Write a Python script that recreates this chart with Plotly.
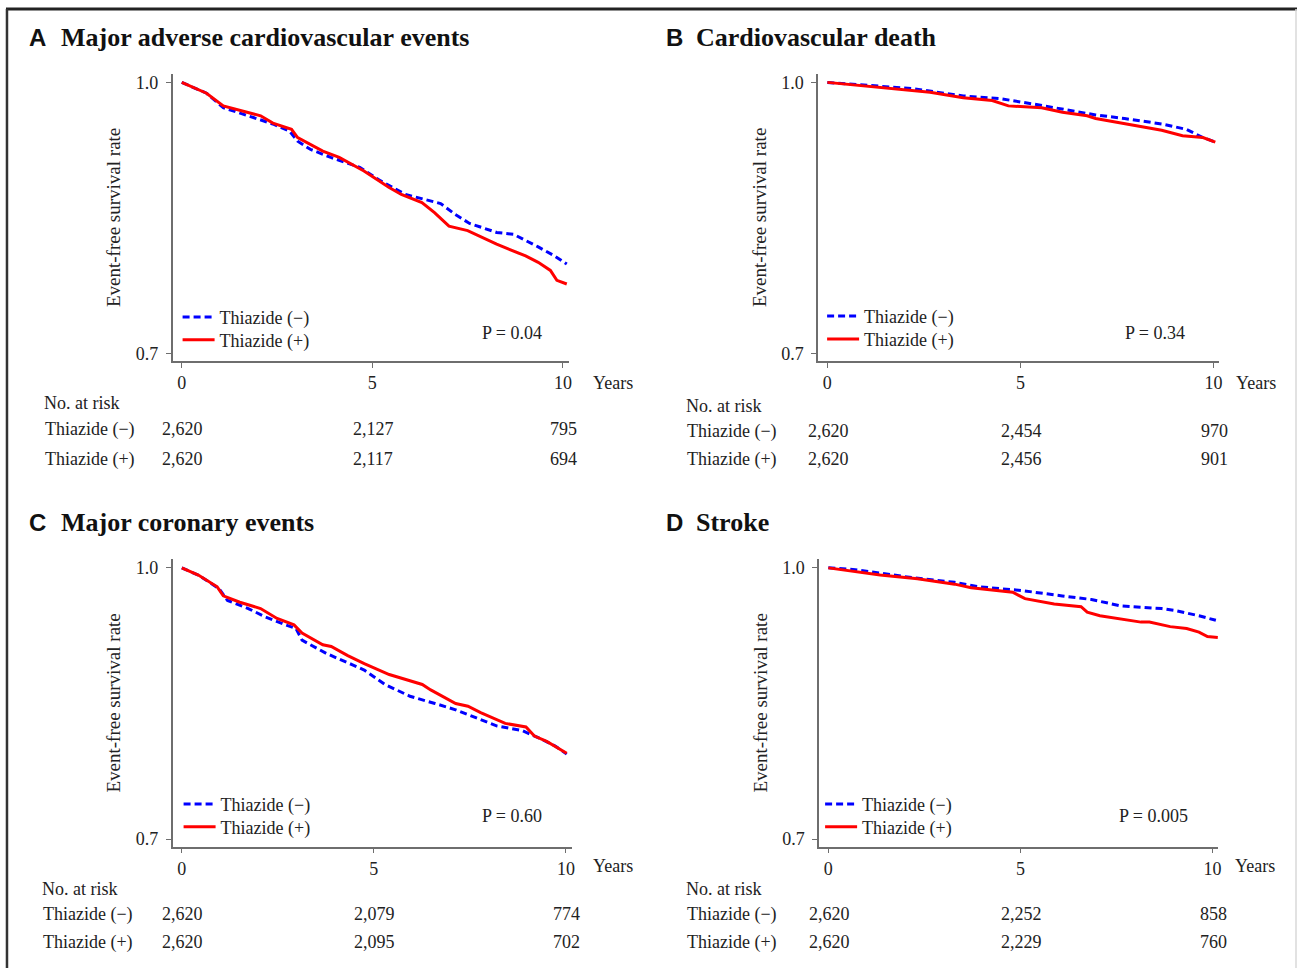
import plotly.graph_objects as go

# ---------------- data ----------------
# Panel A: Major adverse cardiovascular events
A_neg_t = [0, 0.65, 1.09, 1.74, 2.39, 2.83, 3.04, 3.37, 3.91, 4.67, 5.22, 5.87, 6.30, 6.79, 7.17, 7.55, 8.26, 8.70, 9.35, 9.78, 10.1]
A_neg_s = [1.0, 0.988, 0.972, 0.963, 0.954, 0.946, 0.935, 0.926, 0.917, 0.906, 0.891, 0.876, 0.871, 0.866, 0.854, 0.844, 0.834, 0.832, 0.818, 0.808, 0.799]
A_pos_t = [0, 0.65, 1.09, 1.52, 2.07, 2.39, 2.88, 3.04, 3.70, 4.13, 4.78, 5.43, 5.76, 6.30, 6.63, 7.01, 7.50, 8.26, 9.02, 9.35, 9.67, 9.84, 10.1]
A_pos_s = [1.0, 0.988, 0.974, 0.969, 0.963, 0.955, 0.948, 0.939, 0.924, 0.917, 0.902, 0.884, 0.876, 0.867, 0.856, 0.841, 0.836, 0.821, 0.808, 0.801, 0.792, 0.781, 0.777]

# Panel B: Cardiovascular death
B_neg_t = [0, 0.94, 2.23, 3.52, 4.48, 5.34, 6.30, 6.95, 7.70, 8.66, 9.30, 9.73, 10.05]
B_neg_s = [1.0, 0.997, 0.993, 0.985, 0.982, 0.976, 0.969, 0.964, 0.960, 0.954, 0.948, 0.939, 0.934]
B_pos_t = [0, 0.94, 1.80, 2.66, 3.52, 4.27, 4.69, 5.55, 6.09, 6.73, 6.95, 8.02, 8.66, 9.20, 9.73, 10.05]
B_pos_s = [1.0, 0.996, 0.993, 0.989, 0.983, 0.980, 0.974, 0.972, 0.967, 0.963, 0.960, 0.952, 0.947, 0.941, 0.939, 0.934]

# Panel C: Major coronary events
C_neg_t = [0, 0.43, 0.97, 1.19, 1.73, 2.16, 2.70, 2.97, 3.13, 3.78, 4.43, 4.75, 5.29, 5.94, 6.59, 7.13, 7.67, 8.21, 8.86, 9.29, 9.72, 10.02]
C_neg_s = [1.0, 0.992, 0.977, 0.964, 0.955, 0.946, 0.937, 0.933, 0.920, 0.905, 0.893, 0.887, 0.871, 0.858, 0.850, 0.843, 0.834, 0.825, 0.820, 0.812, 0.803, 0.794]
C_pos_t = [0, 0.43, 0.92, 1.08, 1.51, 2.05, 2.48, 2.92, 3.13, 3.67, 3.89, 4.32, 4.75, 5.40, 6.26, 6.48, 7.13, 7.45, 7.78, 8.42, 8.96, 9.18, 9.50, 10.02]
C_pos_s = [1.0, 0.992, 0.979, 0.969, 0.962, 0.955, 0.944, 0.937, 0.928, 0.915, 0.913, 0.903, 0.894, 0.882, 0.871, 0.865, 0.850, 0.847, 0.840, 0.828, 0.824, 0.814, 0.808, 0.795]

# Panel D: Stroke
D_neg_t = [0, 0.70, 2.21, 3.29, 3.94, 5.02, 6.09, 6.85, 7.61, 8.68, 9.01, 9.65, 10.09]
D_neg_s = [1.0, 0.998, 0.989, 0.984, 0.979, 0.975, 0.969, 0.965, 0.958, 0.955, 0.953, 0.947, 0.942]
D_pos_t = [0, 0.70, 1.35, 2.32, 3.29, 3.72, 4.80, 5.12, 5.88, 6.58, 6.74, 7.07, 8.14, 8.36, 8.90, 9.33, 9.65, 9.87, 10.14]
D_pos_s = [1.0, 0.996, 0.992, 0.988, 0.982, 0.978, 0.973, 0.966, 0.960, 0.957, 0.951, 0.947, 0.940, 0.940, 0.935, 0.933, 0.929, 0.924, 0.923]

panel_letters = ["A", "B", "C", "D"]
panel_titles = ["Major adverse cardiovascular events", "Cardiovascular death",
                "Major coronary events", "Stroke"]
p_values = ["P = 0.04", "P = 0.34", "P = 0.60", "P = 0.005"]
risk_times = [0, 5, 10]
risk_neg = [["2,620", "2,127", "795"], ["2,620", "2,454", "970"],
            ["2,620", "2,079", "774"], ["2,620", "2,252", "858"]]
risk_pos = [["2,620", "2,117", "694"], ["2,620", "2,456", "901"],
            ["2,620", "2,095", "702"], ["2,620", "2,229", "760"]]
group_labels = ["Thiazide (\u2212)", "Thiazide (+)"]
x_ticks = [0, 5, 10]
y_ticks = [0.7, 1.0]
y_tick_text = ["0.7", "1.0"]

curves = [(A_neg_t, A_neg_s, A_pos_t, A_pos_s),
          (B_neg_t, B_neg_s, B_pos_t, B_pos_s),
          (C_neg_t, C_neg_s, C_pos_t, C_pos_s),
          (D_neg_t, D_neg_s, D_pos_t, D_pos_s)]

# ---------------- layout geometry (pixels) ----------------
W, H = 1300, 971
SERIF = "Liberation Serif, Times New Roman, serif"
SANS = "Liberation Sans, Arial, sans-serif"
BLUE = "#0000FF"
RED = "#FF0000"
AXC = "#6e6e6e"
TXT = "#222"

def px(x):
    return x / W

def py(y):
    return 1 - y / H

# x-domain pixels per panel, y-domain pixels per row
xdom_px = [(173, 570), (820, 1222), (173, 573), (821, 1221)]
ydom_px = [(73, 361.5), (73, 361.5), (560.5, 849), (560.5, 849)]
XR = [-0.24, 10.15]
YR = [0.6918, 1.0096]

# positions of auxiliary text per panel
title_y = [37, 37, 524, 524]
letter_x = [27, 666, 27, 666]
title_x = [59, 696, 59, 696]
# (line start x, legend-box top for row 1, legend-box top for row 2)
legend_pos = [(182, 299, 322), (828, 298, 321), (183, 788, 811), (826, 788, 811)]
pval_pos = [(513, 333), (1158, 333), (513, 818), (1156, 818)]
years_pos = [(614, 384), (1259, 384), (614, 869), (1258, 869)]
risk_label_x = [42, 686, 40, 686]
risk_rows_y = [(404, 430, 460), (407, 432, 460), (892, 917, 945), (892, 917, 945)]

fig = go.Figure()
annotations = []
legends = {}

for i in range(4):
    n = "" if i == 0 else str(i + 1)
    xa, ya = "x" + n, "y" + n
    lg_neg = "legend" + ("" if i == 0 else str(2 * i + 1))
    lg_pos = "legend" + str(2 * i + 2)
    tn, sn, tp, sp = curves[i]
    fig.add_trace(go.Scatter(x=tn, y=sn, mode="lines", name=group_labels[0],
                             line=dict(color=BLUE, width=3, dash="7px,4px"),
                             xaxis=xa, yaxis=ya, legend=lg_neg))
    fig.add_trace(go.Scatter(x=tp, y=sp, mode="lines", name=group_labels[1],
                             line=dict(color=RED, width=3),
                             xaxis=xa, yaxis=ya, legend=lg_pos))

    lx, t1, t2 = legend_pos[i]
    for key, top in ((lg_neg, t1), (lg_pos, t2)):
        legends[key] = dict(x=px(lx - 4), y=py(top), xanchor="left", yanchor="top",
                            bgcolor="rgba(0,0,0,0)", borderwidth=0,
                            font=dict(family=SERIF, size=18, color=TXT),
                            itemwidth=32)

    x0, x1 = xdom_px[i]
    y0, y1 = ydom_px[i]
    axis_common = dict(showline=True, linecolor=AXC, linewidth=1.5,
                       ticks="outside", ticklen=5, tickwidth=1.2, tickcolor=AXC,
                       showgrid=False, zeroline=False, mirror=False,
                       tickfont=dict(family=SERIF, size=18, color=TXT))
    fig.update_layout(**{
        "xaxis" + n: dict(domain=[px(x0), px(x1)], range=XR, tickvals=x_ticks,
                          anchor=ya, ticklabelstandoff=0, **axis_common),
        "yaxis" + n: dict(domain=[py(y1), py(y0)], range=YR, tickvals=y_ticks,
                          ticktext=y_tick_text, anchor=xa, ticklabelstandoff=4,
                          title=dict(text="Event-free survival rate", standoff=10,
                                     font=dict(family=SERIF, size=19, color=TXT)),
                          **axis_common),
    })

    # panel letter + title
    annotations.append(dict(text="<b>" + panel_letters[i] + "</b>", x=px(letter_x[i]),
                            y=py(title_y[i]), xref="paper", yref="paper",
                            xanchor="left", yanchor="middle", showarrow=False,
                            font=dict(family=SANS, size=24, color="#111")))
    annotations.append(dict(text="<b>" + panel_titles[i] + "</b>", x=px(title_x[i]),
                            y=py(title_y[i]), xref="paper", yref="paper",
                            xanchor="left", yanchor="middle", showarrow=False,
                            font=dict(family=SERIF, size=26, color="#111")))
    # P value
    annotations.append(dict(text=p_values[i], x=px(pval_pos[i][0]), y=py(pval_pos[i][1]),
                            xref="paper", yref="paper", xanchor="center", yanchor="middle",
                            showarrow=False, font=dict(family=SERIF, size=18, color=TXT)))
    # Years
    annotations.append(dict(text="Years", x=px(years_pos[i][0]), y=py(years_pos[i][1]),
                            xref="paper", yref="paper", xanchor="center", yanchor="middle",
                            showarrow=False, font=dict(family=SERIF, size=18, color=TXT)))
    # number at risk table
    ry = risk_rows_y[i]
    annotations.append(dict(text="No. at risk", x=px(risk_label_x[i]), y=py(ry[0]),
                            xref="paper", yref="paper", xanchor="left", yanchor="middle",
                            showarrow=False, font=dict(family=SERIF, size=18, color=TXT)))
    for row, (lab, vals) in enumerate(zip(group_labels, [risk_neg[i], risk_pos[i]])):
        yy = py(ry[row + 1])
        annotations.append(dict(text=lab, x=px(risk_label_x[i] + 1), y=yy,
                                xref="paper", yref="paper", xanchor="left", yanchor="middle",
                                showarrow=False, font=dict(family=SERIF, size=18, color=TXT)))
        for t, v in zip(risk_times, vals):
            annotations.append(dict(text=v, x=t, y=yy, xref=xa, yref="paper",
                                    xanchor="center", yanchor="middle", showarrow=False,
                                    xshift=1,
                                    font=dict(family=SERIF, size=18, color=TXT)))

# outer frame (top and left borders dark, right border light)
shapes = [
    dict(type="line", xref="paper", yref="paper", x0=px(6), x1=1.0, y0=py(8), y1=py(8),
         line=dict(color="#222", width=3)),
    dict(type="line", xref="paper", yref="paper", x0=px(7), x1=px(7), y0=py(8), y1=0,
         line=dict(color="#333", width=2.5)),
    dict(type="line", xref="paper", yref="paper", x0=px(1299), x1=px(1299), y0=py(8), y1=0,
         line=dict(color="#d8d8d8", width=1.5)),
]

fig.update_layout(width=W, height=H, margin=dict(l=0, r=0, t=0, b=0),
                  paper_bgcolor="white", plot_bgcolor="white",
                  annotations=annotations, shapes=shapes, showlegend=True,
                  font=dict(family=SERIF, color=TXT), **legends)

fig.write_html("out.html")
